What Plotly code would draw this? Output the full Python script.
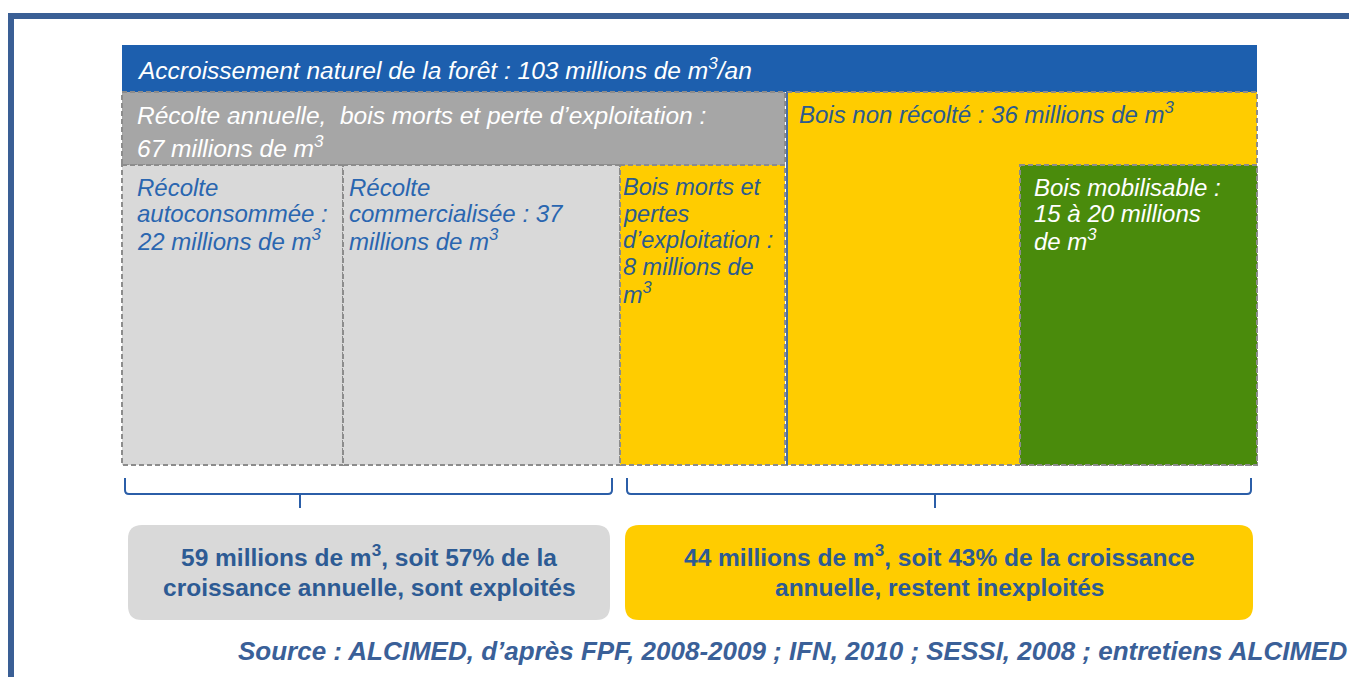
import plotly.graph_objects as go

# Volumes (millions de m3 / an)
accroissement = 103
recolte_totale = 67
autoconsommee = 22
commercialisee = 37
bois_morts = 8
non_recolte = 36
mobilisable = [15, 20]
exploites = 59
pct_exploites = 57
inexploites = 44
pct_inexploites = 43

source = ("Source : ALCIMED, d\u2019après FPF, 2008-2009 ; IFN, 2010 ; "
          "SESSI, 2008 ; entretiens ALCIMED")

M3 = "m<sup>3</sup>"

# la page ajoute 8 px de marge : on travaille en pixels de la page
W, H = 1357, 677
OFF = 8
FONT = "Liberation Sans, Arial, sans-serif"

BLUE_HEAD = "#1d5fae"
GREY_DARK = "#a6a6a6"
GREY_LIGHT = "#d9d9d9"
YELLOW = "#ffcc00"
GREEN = "#4a8b0c"
DASH_COL = "#8c8c8c"
TXT_BLUE = "#2a66b0"
TXT_DARK = "#2c5b8e"
BOTTOM_BLUE = "#2d5b94"
FRAME = "#3a5f95"

fig = go.Figure()
shapes = []
annotations = []


def box(x0, y0, x1, y1, fill, dashed=True, line_col=DASH_COL):
    shapes.append(dict(
        type="rect", xref="x", yref="y", x0=x0, y0=y0, x1=x1, y1=y1,
        fillcolor=fill, layer="below",
        line=dict(color=line_col, width=2, dash="5px,3px") if dashed else dict(width=0),
    ))


def lines(x, y0, step, rows, color, size, italic=True, bold=False, anchor="left"):
    for i, r in enumerate(rows):
        txt = f"<b>{r}</b>" if bold else r
        txt = f"<i>{txt}</i>" if italic else txt
        annotations.append(dict(
            x=x, y=y0 + i * step, xref="x", yref="y", text=txt, showarrow=False,
            xanchor=anchor, yanchor="middle",
            font=dict(family=FONT, size=size, color=color),
        ))


def rounded(x0, y0, x1, y1, r, fill):
    p = (f"M {x0+r} {y0} L {x1-r} {y0} Q {x1} {y0} {x1} {y0+r} "
         f"L {x1} {y1-r} Q {x1} {y1} {x1-r} {y1} L {x0+r} {y1} "
         f"Q {x0} {y1} {x0} {y1-r} L {x0} {y0+r} Q {x0} {y0} {x0+r} {y0} Z")
    shapes.append(dict(type="path", xref="x", yref="y", path=p,
                       fillcolor=fill, line=dict(width=0), layer="below"))


def brace(x0, x1, xm, y0=478, y1=494, y2=508):
    p = (f"M {x0} {y0} L {x0} {y1-4} Q {x0} {y1} {x0+4} {y1} L {x1-4} {y1} "
         f"Q {x1} {y1} {x1} {y1-4} L {x1} {y0} M {xm} {y1} L {xm} {y2}")
    shapes.append(dict(type="path", xref="x", yref="y", path=p,
                       line=dict(color="#2b5ea8", width=2)))


# cadre
shapes.append(dict(type="line", xref="x", yref="y", x0=8, x1=W, y0=16, y1=16,
                   line=dict(color=FRAME, width=6)))
shapes.append(dict(type="line", xref="x", yref="y", x0=11, x1=11, y0=13, y1=H,
                   line=dict(color=FRAME, width=6)))

# blocs
box(122, 45, 1257, 92, BLUE_HEAD, dashed=False)
box(122, 92, 785, 165, GREY_DARK)
box(122, 165, 343, 465, GREY_LIGHT)
box(343, 165, 620, 465, GREY_LIGHT)
box(620, 165, 785, 465, YELLOW)
box(787, 92, 1257, 465, YELLOW)
shapes.append(dict(type="line", xref="x", yref="y", x0=787, x1=787, y0=92, y1=465,
                   line=dict(color="#4a6fa5", width=2)))
box(1020, 165, 1257, 465, GREEN)

lines(135, 68, 0, [f"Accroissement naturel de la forêt : {accroissement} millions de {M3}/an"],
      "white", 24.5)
lines(135, 115, 31, ["Récolte annuelle,  bois morts et perte d\u2019exploitation :",
                     f"{recolte_totale} millions de {M3}"], "white", 24.5)
lines(135, 187, 26.5, ["Récolte", "autoconsommée :", f"{autoconsommee} millions de {M3}"],
      TXT_BLUE, 24)
lines(347, 187, 26.5, ["Récolte", f"commercialisée : {commercialisee}", f"millions de {M3}"],
      TXT_BLUE, 24)
lines(621, 187, 26.5, ["Bois morts et", "pertes", "d\u2019exploitation :",
                       f"{bois_morts} millions de", M3], TXT_DARK, 23.5)
lines(797, 113, 0, [f"Bois non récolté : {non_recolte} millions de {M3}"], TXT_DARK, 24)
lines(1032, 187, 26.5, ["Bois mobilisable :", f"{mobilisable[0]} à {mobilisable[1]} millions",
                        f"de {M3}"], "white", 24)

# accolades + bilans
brace(125, 612, 300)
brace(627, 1251, 935)
rounded(128, 525, 610, 620, 14, GREY_LIGHT)
rounded(625, 525, 1253, 620, 14, YELLOW)
lines(369, 555, 32, [f"{exploites} millions de {M3}, soit {pct_exploites}% de la",
                     "croissance annuelle, sont exploités"],
      BOTTOM_BLUE, 24.5, italic=False, bold=True, anchor="center")
lines(939, 555, 32, [f"{inexploites} millions de {M3}, soit {pct_inexploites}% de la croissance",
                     "annuelle, restent inexploités"],
      BOTTOM_BLUE, 24.5, italic=False, bold=True, anchor="center")

lines(1349, 651, 0, [source], "#3a6098", 26, bold=True, anchor="right")

fig.update_layout(
    width=W - OFF, height=H - OFF, margin=dict(l=0, r=0, t=0, b=0),
    paper_bgcolor="white", plot_bgcolor="white",
    xaxis=dict(range=[OFF, W], visible=False, fixedrange=True),
    yaxis=dict(range=[H, OFF], visible=False, fixedrange=True),
    shapes=shapes, annotations=annotations, showlegend=False,
)
fig.write_html("out.html")
